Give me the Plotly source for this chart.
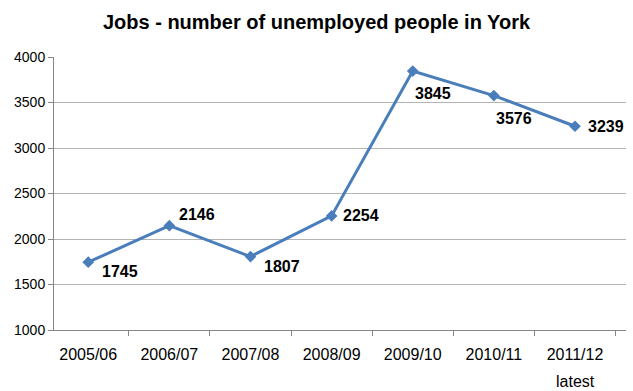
import plotly.graph_objects as go

categories = ["2005/06", "2006/07", "2007/08", "2008/09", "2009/10", "2010/11", "2011/12"]
tick_labels = ["2005/06", "2006/07", "2007/08", "2008/09", "2009/10", "2010/11", "2011/12"]
last_note = "latest"
unemployed = [1745, 2146, 1807, 2254, 3845, 3576, 3239]
y_ticks = [1000, 1500, 2000, 2500, 3000, 3500, 4000]

# label offsets in pixels (styling only)
label_dx = [12, 8, 12, 9, 0, 0, 11]
label_dy = [-9, 11, -10, 0, -22, -23, 0]

LINE = "#4A7EBB"
GRID = "#B3B3B3"
AXIS = "#868686"

fig = go.Figure()
fig.add_trace(go.Scatter(
    x=categories, y=unemployed,
    mode="lines+markers",
    line=dict(color=LINE, width=3),
    marker=dict(symbol="diamond", size=9, color=LINE),
    showlegend=False,
))

for cat, val, dx, dy in zip(categories, unemployed, label_dx, label_dy):
    fig.add_annotation(
        x=cat, y=val, text=f"<b>{val}</b>", showarrow=False,
        xanchor="left", yanchor="middle", xshift=dx, yshift=dy,
        font=dict(family="Liberation Sans", size=16, color="#000000"),
    )

fig.add_annotation(
    x=categories[-1], y=0, xref="x", yref="paper", text=last_note,
    showarrow=False, xanchor="center", yanchor="middle", xshift=0, yshift=-51,
    font=dict(family="Liberation Sans", size=16, color="#000000"),
)

fig.update_layout(
    width=633, height=391,
    template="none",
    margin=dict(l=54, r=7, t=57, b=61, autoexpand=False),
    paper_bgcolor="white", plot_bgcolor="white",
    title=dict(
        text="<b>Jobs - number of unemployed people in York</b>",
        x=0.5, xanchor="center", y=0.943, yanchor="middle",
        font=dict(family="Liberation Sans", size=20, color="#000000"),
    ),
    xaxis=dict(
        type="category",
        tickmode="array", tickvals=categories, ticktext=tick_labels,
        tickson="boundaries", ticks="outside", ticklen=5, tickcolor=AXIS,
        showline=True, linecolor=AXIS, linewidth=1,
        showgrid=False, ticklabelstandoff=10, automargin=False,
        tickfont=dict(family="Liberation Sans", size=16, color="#000000"),
    ),
    yaxis=dict(
        range=[1000, 4000], tickmode="array", tickvals=y_ticks,
        ticks="outside", ticklen=5, tickcolor=AXIS,
        showline=True, linecolor=AXIS, linewidth=1,
        showgrid=True, gridcolor=GRID, gridwidth=1,
        zeroline=False, automargin=False,
        tickfont=dict(family="Liberation Sans", size=14, color="#000000"),
    ),
)

fig.write_html("out.html")
